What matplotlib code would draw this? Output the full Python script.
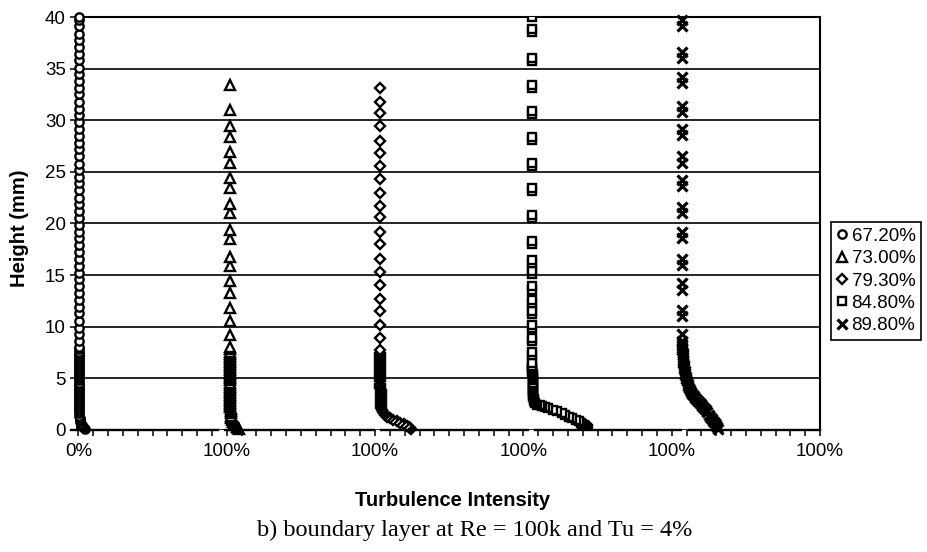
import matplotlib
matplotlib.use("Agg")
import matplotlib.pyplot as plt

plt.rcParams['font.family'] = ['Liberation Sans', 'DejaVu Sans']

# each profile sits in its own 100% wide block of the x axis
series_labels = ["67.20%", "73.00%", "79.30%", "84.80%", "89.80%"]
block_offsets = [0, 100, 200, 300, 400]
xtick_labels = ["0%", "100%", "100%", "100%", "100%", "100%"]

# 67.20% - circles (height mm, Tu %)
circ_y = [0.1, 0.2, 0.3, 0.45, 0.6, 0.8, 1.0, 1.2, 1.4, 1.6, 1.8, 2.0, 2.2, 2.4,
          2.6, 2.8, 3.0, 3.2, 3.4, 3.6, 3.8, 4.0, 4.2, 4.4, 4.6, 4.8, 5.0, 5.2,
          5.4, 5.6, 5.8, 6.0, 6.2, 6.4, 6.6, 6.8, 7.0, 7.2, 7.4, 7.6, 7.8, 8.0,
          8.6, 9.3, 9.9, 10.6, 11.3, 11.9, 12.6, 13.3, 13.9, 14.6, 15.2, 15.9,
          16.6, 17.2, 17.9, 18.6, 19.2, 19.9, 20.5, 21.2, 21.9, 22.5, 23.2, 23.9,
          24.5, 25.2, 25.8, 26.5, 27.2, 27.8, 28.5, 29.2, 29.8, 30.5, 31.1, 31.8,
          32.5, 33.1, 33.8, 34.5, 35.1, 35.8, 36.4, 37.1, 37.8, 38.4, 39.1, 39.7,
          40.0]
circ_x = [4.2, 3.8, 3.2, 2.5, 1.8, 1.2, 0.9, 0.7, 0.6, 0.5, 0.5, 0.4, 0.4, 0.4,
          0.4, 0.4, 0.3, 0.3, 0.3, 0.3, 0.3, 0.3, 0.3, 0.3, 0.3, 0.3, 0.3, 0.3,
          0.2, 0.2, 0.2, 0.2, 0.2, 0.2, 0.2, 0.2, 0.2, 0.2, 0.2, 0.2, 0.2, 0.2,
          0.1, 0.1, 0.1, 0.1, 0.1, 0.1, 0.1, 0.1, 0.1, 0.1, 0.1, 0.1,
          0.1, 0.1, 0.1, 0.1, 0.1, 0.1, 0.1, 0.1, 0.1, 0.1, 0.1, 0.1,
          0.1, 0.1, 0.1, 0.1, 0.1, 0.1, 0.1, 0.1, 0.1, 0.1, 0.1, 0.1,
          0.1, 0.1, 0.1, 0.1, 0.1, 0.1, 0.1, 0.1, 0.1, 0.1, 0.1, 0.1,
          0.1]

# 73.00% - triangles
tri_y = [0.1, 0.2, 0.3, 0.45, 0.6, 0.8, 1.0, 1.2, 1.4, 1.6, 1.8, 2.0, 2.2, 2.4,
         2.6, 2.8, 3.0, 3.2, 3.4, 3.6, 3.8, 4.0, 4.2, 4.4, 4.6, 4.8, 5.0, 5.2,
         5.4, 5.6, 5.8, 6.0, 6.2, 6.4, 6.6, 6.8, 7.0, 7.2, 7.4, 7.6, 7.8, 8.0,
         9.2, 10.6, 11.8, 13.3, 14.4, 15.9, 16.8, 18.5, 19.4, 21.0, 21.9, 23.4,
         24.4, 25.9, 26.9, 28.4, 29.4, 31.0, 33.4]
tri_x = [8.0, 7.4, 6.6, 5.6, 4.7, 3.9, 3.3, 3.0, 2.8, 2.7, 2.6, 2.6, 2.5, 2.5,
         2.5, 2.5, 2.5, 2.5, 2.4, 2.4, 2.4, 2.4, 2.4, 2.4, 2.4, 2.4, 2.4, 2.4,
         2.4, 2.4, 2.4, 2.4, 2.4, 2.4, 2.4, 2.4, 2.4, 2.4, 2.4, 2.4, 2.4, 2.4,
         2.4, 2.4, 2.4, 2.4, 2.4, 2.4, 2.4, 2.4, 2.4, 2.4, 2.4, 2.4,
         2.4, 2.4, 2.4, 2.4, 2.4, 2.4, 2.4]

# 79.30% - diamonds
dia_y = [0.1, 0.2, 0.3, 0.4, 0.55, 0.7, 0.85, 1.0, 1.15, 1.3, 1.45, 1.6, 1.75,
         1.9, 2.1, 2.3, 2.5, 2.7, 2.9, 3.1, 3.3, 3.5, 3.7, 3.9, 4.1, 4.3, 4.5,
         4.7, 4.9, 5.1, 5.3, 5.5, 5.7, 5.9, 6.1, 6.3, 6.5, 6.7, 6.9, 7.1, 7.3,
         7.5, 7.7,
         8.9, 10.2, 11.5, 12.7, 14.0, 15.3, 16.6, 18.0, 19.2, 20.6, 21.7, 23.0,
         24.3, 25.6, 26.8, 28.0, 29.4, 30.7, 31.8, 33.1]
dia_x = [24.5, 23.8, 22.8, 21.5, 19.3, 17.0, 14.5, 12.0, 10.0, 8.2, 6.8, 5.8,
         5.0, 4.5, 4.2, 4.0, 3.9, 3.8, 3.8, 3.7, 3.7, 3.7, 3.7, 3.7, 3.6, 3.6,
         3.6, 3.6, 3.6, 3.6, 3.6, 3.6, 3.6, 3.6, 3.6, 3.6, 3.6, 3.6, 3.6, 3.6,
         3.6, 3.6, 3.6,
         3.6, 3.6, 3.6, 3.6, 3.6, 3.6, 3.6, 3.6, 3.6, 3.6, 3.6, 3.6,
         3.6, 3.6, 3.6, 3.6, 3.6, 3.6, 3.6, 3.6]

# 84.80% - squares
sq_y = [0.1, 0.2, 0.3, 0.4, 0.5, 0.6, 0.7, 0.85, 1.0, 1.15, 1.3, 1.45, 1.6,
        1.8, 1.95, 2.1, 2.2, 2.3, 2.38, 2.45, 2.6, 2.8, 3.0, 3.2, 3.4, 3.6,
        3.8, 4.0, 4.2, 4.4, 4.6, 4.8, 5.0, 5.2, 5.4, 5.6, 5.8, 6.0, 6.2,
        6.5, 7.3, 7.6, 8.6, 8.9, 9.9, 10.2, 11.2, 11.5, 12.3, 12.6, 13.6, 13.9,
        15.1, 15.4, 16.2, 16.5, 18.0, 18.3, 20.5, 20.8, 23.1, 23.4, 25.6, 25.9,
        28.1, 28.4, 30.6, 30.9, 33.1, 33.4, 35.7, 36.0, 38.5, 38.8, 40.0]
sq_x = [43.5, 43.0, 42.3, 41.5, 40.6, 39.8, 39.0, 37.5, 35.5, 33.0, 30.8, 28.2,
        26.0, 22.8, 19.8, 16.7, 14.5, 12.5, 11.0, 9.5, 8.0, 7.3, 7.0, 6.8, 6.7,
        6.6, 6.6, 6.5, 6.5, 6.4, 6.4, 6.3, 6.3, 6.2, 6.2, 6.1, 6.1, 6.0, 6.0,
        6.0, 5.9, 5.9, 5.8, 5.8, 5.8, 5.8, 5.7, 5.7, 5.7, 5.7, 5.7, 5.7,
        5.7, 5.7, 5.7, 5.7, 5.7, 5.7, 5.7, 5.7, 5.7, 5.7, 5.7, 5.7,
        5.7, 5.7, 5.7, 5.7, 5.7, 5.7, 5.7, 5.7, 5.7, 5.7, 5.7]

# 89.80% - crosses
crs_y = [0.1, 0.3, 0.5, 0.7, 0.9, 1.1, 1.3, 1.5, 1.7, 1.9, 2.1, 2.3, 2.5, 2.7,
         2.9, 3.1, 3.3, 3.5, 3.7, 3.9, 4.1, 4.3, 4.5, 4.7, 4.9, 5.1, 5.3, 5.5,
         5.7, 5.9, 6.1, 6.3, 6.5, 6.7, 6.9, 7.1, 7.3, 7.5, 7.7, 7.9, 8.1, 8.3,
         8.6, 9.3, 11.0, 11.6, 13.6, 14.2, 16.0, 16.6, 18.6, 19.2, 21.0, 21.6,
         23.6, 24.2, 25.9, 26.5, 28.6, 29.2, 30.8, 31.4, 33.6, 34.2, 36.0, 36.6,
         39.1, 39.7]
crs_x = [31.5, 30.8, 30.0, 29.0, 28.0, 27.0, 26.0, 25.0, 24.0, 23.0, 21.8, 20.6,
         19.5, 18.3, 17.1, 16.0, 15.0, 14.0, 13.2, 12.5, 11.8, 11.2, 10.7, 10.2,
         9.8, 9.5, 9.2, 9.0, 8.7, 8.5, 8.3, 8.1, 7.9, 7.8, 7.6, 7.5, 7.4, 7.3,
         7.2, 7.1, 7.0, 6.9, 6.8, 6.8, 6.8, 6.8, 6.8, 6.8, 6.8, 6.8, 6.8, 6.8,
         6.8, 6.8, 6.8, 6.8, 6.8, 6.8, 6.8, 6.8, 6.8, 6.8, 6.8, 6.8, 6.8, 6.8,
         6.8, 6.8]

all_x = [circ_x, tri_x, dia_x, sq_x, crs_x]
all_y = [circ_y, tri_y, dia_y, sq_y, crs_y]
markers = ['o', '^', 'D', 's', 'x']
msizes = [6.0, 6.5, 5.0, 6.0, 7.0]
mwidths = [1.7, 1.7, 1.7, 1.7, 2.3]

fig = plt.figure(figsize=(9.28, 5.52), dpi=100)
ax = fig.add_axes([77 / 928, 1 - 430 / 552, (820 - 77) / 928, (430 - 17) / 552])

handles = []
for i in range(5):
    xs = [block_offsets[i] + v for v in all_x[i]]
    h, = ax.plot(xs, all_y[i], linestyle='none', marker=markers[i],
                 markersize=msizes[i], markerfacecolor='white',
                 markeredgecolor='black', markeredgewidth=mwidths[i],
                 color='black', clip_on=(i == 3), zorder=3)
    handles.append(h)

ax.set_xlim(-1, 500)
ax.set_ylim(0, 40)
ax.set_yticks(range(0, 41, 5))
ax.set_xticks(range(0, 501, 100))
ax.set_xticklabels(xtick_labels)
ax.set_xticks(range(0, 501, 10), minor=True)
ax.grid(axis='y', color='black', linewidth=1.2)
ax.set_axisbelow(True)

ax.tick_params(axis='both', which='both', direction='out', color='black',
               width=1.1, labelsize=13.5)
ax.tick_params(axis='x', which='both', length=4, pad=5)
ax.tick_params(axis='y', length=5, pad=3)

for side in ['top', 'right', 'left']:
    ax.spines[side].set_color('black')
    ax.spines[side].set_linewidth(1.5)
ax.spines['bottom'].set_visible(False)

# broken bottom axis, one piece per profile block
for a, b in [(-5, 94), (99, 199), (204, 303), (308, 406), (412, 500)]:
    ax.plot([a, b], [0, 0], color='black', linewidth=1.7,
            transform=ax.get_xaxis_transform(), clip_on=False, zorder=4)

leg = ax.legend(handles, series_labels, loc='upper left',
                bbox_to_anchor=(831 / 928, 1 - 222 / 552),
                bbox_transform=fig.transFigure, frameon=True, fancybox=False,
                edgecolor='black', framealpha=1, borderpad=0.3,
                handlelength=0.55, handletextpad=0.25, labelspacing=0.28,
                borderaxespad=0, fontsize=13.5)
leg.get_frame().set_linewidth(1.2)

fig.text(20 / 928, 1 - 228 / 552, 'Height (mm)', rotation=90, ha='center',
         va='center', fontsize=14.5, fontweight='bold')
fig.text(453 / 928, 1 - 501 / 552, 'Turbulence Intensity', ha='center',
         va='center', fontsize=14.5, fontweight='bold')
fig.text(475 / 928, 1 - 530 / 552, 'b) boundary layer at Re = 100k and Tu = 4%',
         ha='center', va='center', fontsize=17.5, family='Liberation Serif')

fig.savefig('out.png', dpi=100)
